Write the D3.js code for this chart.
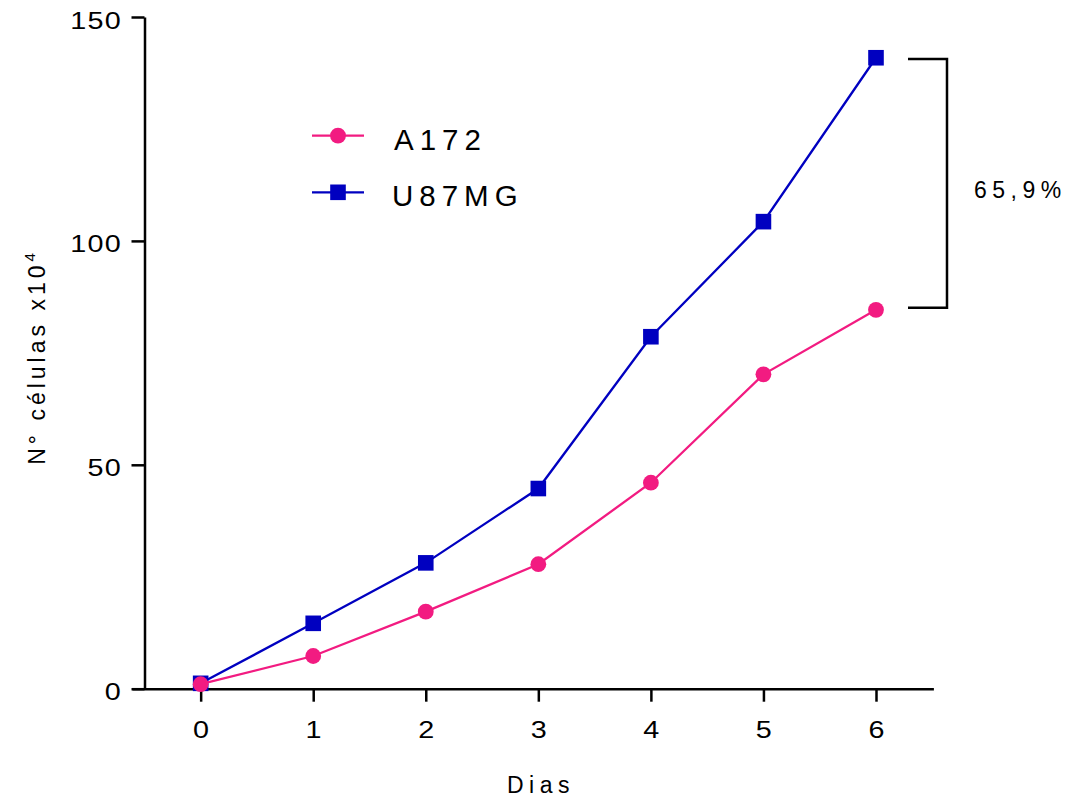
<!DOCTYPE html>
<html>
<head>
<meta charset="utf-8">
<script src="https://cdn.jsdelivr.net/npm/d3@7"></script>
<style>
  html, body { margin: 0; padding: 0; background: #fff; }
  svg { display: block; }
  text { font-family: "Liberation Sans", Arial, Helvetica, sans-serif; fill: #000; }
</style>
</head>
<body>
<svg id="chart" width="1070" height="798"></svg>
<script>
// ---- data ----
const days = [0, 1, 2, 3, 4, 5, 6];
const a172 = [1.0, 7.3, 17.2, 27.8, 46.0, 70.2, 84.6];
const u87mg = [1.2, 14.6, 28.1, 44.7, 78.6, 104.3, 140.9];
const yTicks = [0, 50, 100, 150];
const seriesNames = ["A172", "U87MG"];
const annotationText = "65,9%";
const xTitle = "Dias";

// ---- layout ----
const svg = d3.select("#chart");
const pink = "#F21B81", blue = "#0000C0";

const x = d3.scaleLinear().domain([-0.61, 6.51]).range([132, 933.4]);
const y = d3.scaleLinear().domain([0, 150]).range([688.7, 17]);
const axisX = 144.5;

// X axis
const gx = svg.append("g").attr("transform", `translate(0,${y(0)})`)
  .call(d3.axisBottom(x).tickValues(days).tickSize(13).tickSizeOuter(0).tickFormat(d3.format("d")));
gx.select(".domain").attr("stroke", "#000").attr("stroke-width", 2.5);
gx.selectAll(".tick line").attr("stroke", "#000").attr("stroke-width", 2.5);
gx.selectAll(".tick text")
  .attr("y", null).attr("dy", null)
  .attr("transform", "translate(0.5,49.5) scale(1.25,1)")
  .attr("text-anchor", "middle")
  .style("font-size", "23px").style("letter-spacing", "1px")
  .style("font-family", "'Liberation Sans', Arial, sans-serif").attr("fill", "#000");

// Y axis
const gy = svg.append("g").attr("transform", `translate(${axisX},0)`)
  .call(d3.axisLeft(y).tickValues(yTicks).tickSize(13).tickSizeOuter(0).tickFormat(d3.format("d")));
gy.select(".domain").attr("stroke", "#000").attr("stroke-width", 2.5);
gy.selectAll(".tick line").attr("stroke", "#000").attr("stroke-width", 2.5);
gy.selectAll(".tick text")
  .attr("x", null).attr("dy", null)
  .attr("transform", "translate(-22.5,11) scale(1.25,1)")
  .attr("text-anchor", "end")
  .style("font-size", "23px").style("letter-spacing", "1px")
  .style("font-family", "'Liberation Sans', Arial, sans-serif").attr("fill", "#000");

// Axis titles
svg.append("text")
  .attr("x", 541).attr("y", 793)
  .attr("text-anchor", "middle")
  .style("font-size", "23px").style("letter-spacing", "5.5px")
  .text(xTitle);

const yl = svg.append("text")
  .attr("transform", "translate(45,357) rotate(-90)")
  .attr("text-anchor", "middle")
  .style("font-size", "23px").style("letter-spacing", "4px");
yl.append("tspan").text("N° células x10");
yl.append("tspan").attr("dy", -10).style("font-size", "15px").text("4");

// Series
const line = d3.line().x((d, i) => x(days[i])).y(d => y(d));

function drawSeries(vals, color, shape) {
  svg.append("path").datum(vals)
    .attr("d", line).attr("fill", "none")
    .attr("stroke", color).attr("stroke-width", 2.3);
  const g = svg.append("g");
  if (shape === "square") {
    g.selectAll("rect").data(vals).enter().append("rect")
      .attr("x", (d, i) => x(days[i]) - 7.8).attr("y", d => y(d) - 7.8)
      .attr("width", 15.6).attr("height", 15.6).attr("fill", color);
  } else {
    g.selectAll("circle").data(vals).enter().append("circle")
      .attr("cx", (d, i) => x(days[i])).attr("cy", d => y(d))
      .attr("r", 7.9).attr("fill", color);
  }
}
drawSeries(u87mg, blue, "square");
drawSeries(a172, pink, "circle");

// Legend
const legend = [
  { name: seriesNames[0], color: pink, shape: "circle", y: 135.7 },
  { name: seriesNames[1], color: blue, shape: "square", y: 192.3 }
];
legend.forEach(l => {
  svg.append("line").attr("x1", 312).attr("x2", 364).attr("y1", l.y).attr("y2", l.y)
    .attr("stroke", l.color).attr("stroke-width", 2.3);
  if (l.shape === "circle") {
    svg.append("circle").attr("cx", 338).attr("cy", l.y).attr("r", 7.9).attr("fill", l.color);
  } else {
    svg.append("rect").attr("x", 338 - 7.8).attr("y", l.y - 7.8).attr("width", 15.6).attr("height", 15.6).attr("fill", l.color);
  }
  svg.append("text").attr("x", l.name === "A172" ? 394 : 392).attr("y", l.y + 13.8)
    .style("font-size", "29.5px").style("letter-spacing", "6px")
    .text(l.name);
});

// Bracket annotation
const bTop = y(u87mg[6]) + 1.3, bBot = y(a172[6]) - 2;
const bx0 = x(6) + 32, bx1 = x(6) + 71;
svg.append("path")
  .attr("d", `M${bx0},${bTop}H${bx1}V${bBot}H${bx0}`)
  .attr("fill", "none").attr("stroke", "#000").attr("stroke-width", 2.5);
svg.append("text").attr("x", 974).attr("y", 198)
  .style("font-size", "23px").style("letter-spacing", "5.5px")
  .text(annotationText);
</script>
</body>
</html>
